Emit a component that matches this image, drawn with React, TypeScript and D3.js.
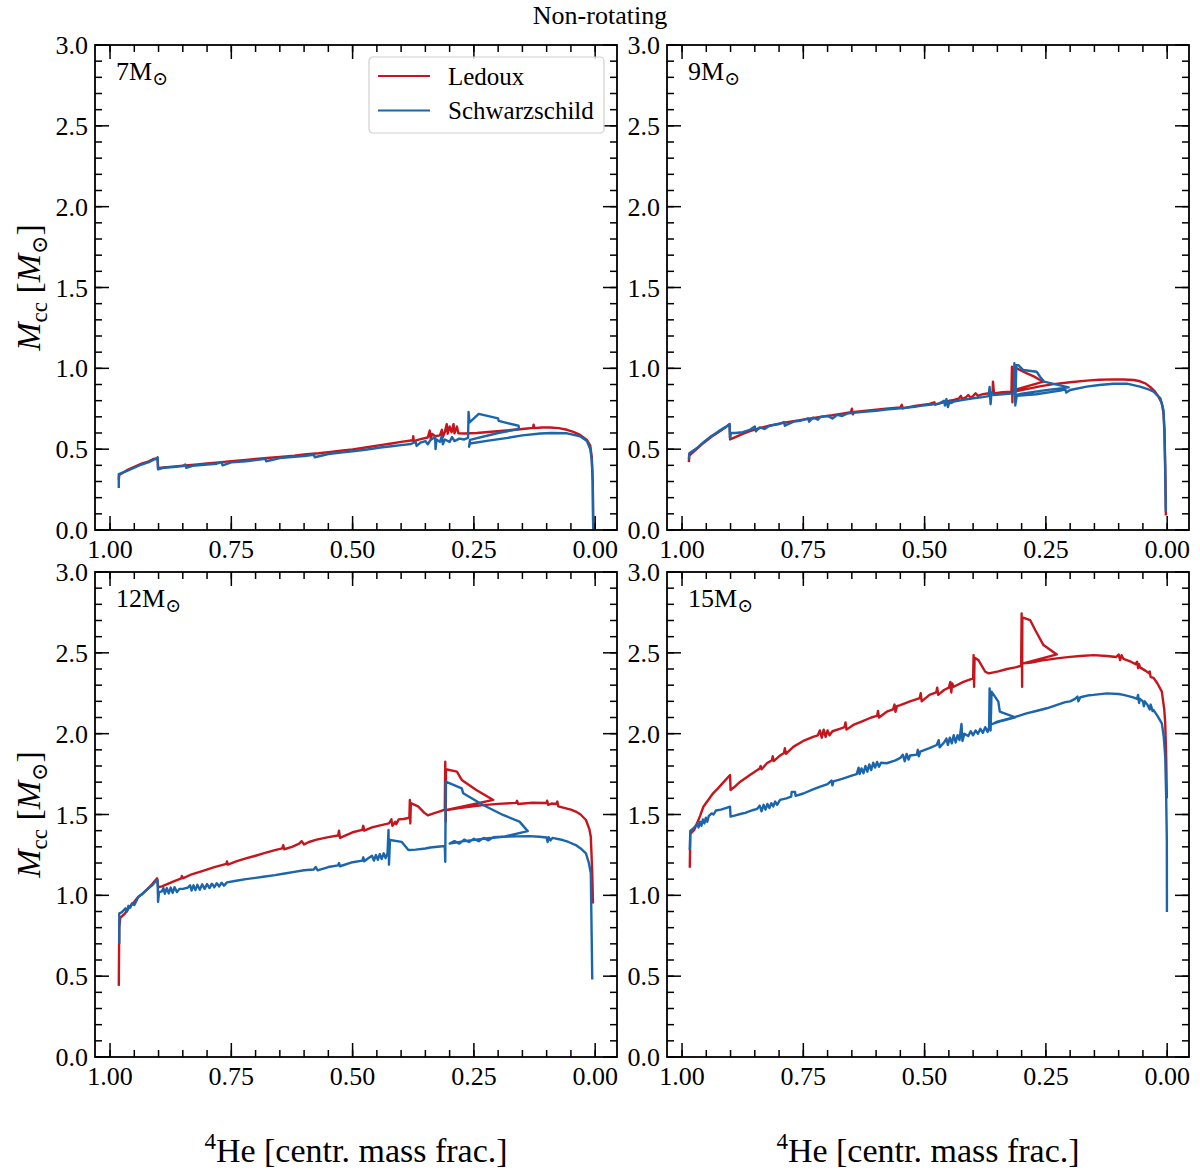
import * as d3 from 'd3';

// ---- data: [central He mass fraction, M_cc] ----
const m7Ledoux: [number, number][] = [
  [0.982, 0.31], [0.981, 0.34], [0.965, 0.37], [0.95, 0.39], [0.935, 0.41], [0.92, 0.425], [0.91, 0.44], [0.902, 0.445],
  [0.901, 0.383], [0.89, 0.387], [0.87, 0.392], [0.85, 0.398], [0.82, 0.406], [0.8, 0.412], [0.77, 0.42], [0.75, 0.426],
  [0.72, 0.434], [0.7, 0.44], [0.67, 0.447], [0.65, 0.452], [0.62, 0.46], [0.6, 0.467], [0.57, 0.475], [0.55, 0.482],
  [0.52, 0.492], [0.5, 0.499], [0.47, 0.512], [0.443, 0.525], [0.42, 0.535], [0.4, 0.545], [0.376, 0.555], [0.375, 0.58],
  [0.374, 0.55], [0.36, 0.562], [0.345, 0.572], [0.341, 0.615], [0.339, 0.565], [0.336, 0.595], [0.33, 0.58], [0.32, 0.585],
  [0.316, 0.62], [0.314, 0.575], [0.31, 0.605], [0.306, 0.655], [0.304, 0.595], [0.3, 0.64], [0.296, 0.605], [0.292, 0.655],
  [0.29, 0.598], [0.285, 0.64], [0.282, 0.598], [0.27, 0.597], [0.244, 0.6], [0.22, 0.606], [0.19, 0.614], [0.16, 0.622],
  [0.14, 0.628], [0.128, 0.632], [0.127, 0.652], [0.125, 0.63], [0.11, 0.634], [0.093, 0.634], [0.075, 0.63], [0.058, 0.62],
  [0.045, 0.607], [0.031, 0.588], [0.017, 0.557], [0.01, 0.52], [0.007, 0.45], [0.005, 0.3], [0.004, 0.0],
];

const m7Schwarz: [number, number][] = [
  [0.982, 0.26], [0.982, 0.345], [0.965, 0.365], [0.95, 0.385], [0.935, 0.405], [0.92, 0.42], [0.91, 0.435], [0.903, 0.44],
  [0.902, 0.45], [0.901, 0.375], [0.89, 0.385], [0.87, 0.39], [0.85, 0.395], [0.845, 0.405], [0.843, 0.385], [0.83, 0.397],
  [0.8, 0.405], [0.78, 0.41], [0.77, 0.42], [0.768, 0.4], [0.75, 0.418], [0.72, 0.425], [0.7, 0.432], [0.68, 0.44],
  [0.678, 0.425], [0.65, 0.445], [0.62, 0.452], [0.6, 0.458], [0.58, 0.465], [0.578, 0.45], [0.55, 0.47], [0.52, 0.48],
  [0.5, 0.487], [0.47, 0.498], [0.443, 0.51], [0.42, 0.518], [0.4, 0.525], [0.38, 0.532], [0.37, 0.545], [0.368, 0.52],
  [0.36, 0.54], [0.35, 0.55], [0.345, 0.53], [0.34, 0.555], [0.33, 0.575], [0.329, 0.5], [0.327, 0.56], [0.32, 0.545],
  [0.316, 0.58], [0.314, 0.53], [0.31, 0.56], [0.3, 0.545], [0.295, 0.575], [0.29, 0.55], [0.28, 0.565], [0.27, 0.56],
  [0.262, 0.57], [0.261, 0.73], [0.259, 0.665], [0.24, 0.718], [0.2, 0.69], [0.199, 0.675], [0.158, 0.645], [0.157, 0.625],
  [0.2, 0.6], [0.258, 0.557], [0.26, 0.515], [0.258, 0.535], [0.22, 0.553], [0.18, 0.57], [0.15, 0.585], [0.113, 0.597],
  [0.09, 0.6], [0.058, 0.598], [0.031, 0.58], [0.017, 0.55], [0.01, 0.5], [0.007, 0.43], [0.005, 0.3], [0.004, 0.0],
];

const m9Ledoux: [number, number][] = [
  [0.986, 0.42], [0.985, 0.46], [0.97, 0.5], [0.955, 0.54], [0.94, 0.575], [0.925, 0.605], [0.91, 0.635], [0.902, 0.655],
  [0.901, 0.56], [0.89, 0.575], [0.875, 0.595], [0.86, 0.612], [0.84, 0.63], [0.82, 0.645], [0.8, 0.658], [0.78, 0.668],
  [0.757, 0.68], [0.735, 0.69], [0.715, 0.7], [0.69, 0.71], [0.67, 0.72], [0.652, 0.728], [0.65, 0.75], [0.648, 0.715],
  [0.645, 0.73], [0.62, 0.738], [0.6, 0.744], [0.58, 0.75], [0.55, 0.758], [0.547, 0.775], [0.545, 0.752], [0.52, 0.768],
  [0.509, 0.772], [0.49, 0.78], [0.48, 0.79], [0.478, 0.775], [0.454, 0.796], [0.44, 0.804], [0.43, 0.812], [0.425, 0.83],
  [0.423, 0.81], [0.415, 0.82], [0.41, 0.835], [0.405, 0.818], [0.4, 0.83], [0.395, 0.845], [0.39, 0.83], [0.38, 0.84],
  [0.36, 0.85], [0.359, 0.918], [0.357, 0.845], [0.34, 0.852], [0.321, 0.856], [0.32, 1.01], [0.319, 0.79], [0.318, 1.0],
  [0.31, 1.0], [0.289, 0.969], [0.275, 0.95], [0.262, 0.928], [0.255, 0.918], [0.315, 0.866], [0.316, 0.856], [0.3, 0.866],
  [0.28, 0.878], [0.26, 0.89], [0.234, 0.902], [0.2, 0.914], [0.166, 0.924], [0.14, 0.929], [0.111, 0.932], [0.09, 0.931],
  [0.069, 0.928], [0.056, 0.92], [0.045, 0.907], [0.035, 0.885], [0.025, 0.856], [0.018, 0.825], [0.011, 0.784],
  [0.0075, 0.72], [0.0055, 0.62], [0.004, 0.4], [0.0027, 0.09],
];

const m9Schwarz: [number, number][] = [
  [0.986, 0.44], [0.985, 0.475], [0.97, 0.505], [0.955, 0.545], [0.94, 0.58], [0.925, 0.61], [0.91, 0.638], [0.902, 0.655],
  [0.901, 0.57], [0.899, 0.6], [0.89, 0.6], [0.875, 0.605], [0.86, 0.62], [0.85, 0.64], [0.848, 0.61], [0.84, 0.635],
  [0.83, 0.625], [0.82, 0.645], [0.8, 0.655], [0.79, 0.668], [0.788, 0.645], [0.77, 0.67], [0.757, 0.675], [0.74, 0.69],
  [0.738, 0.67], [0.73, 0.695], [0.72, 0.683], [0.715, 0.7], [0.7, 0.705], [0.69, 0.69], [0.68, 0.712], [0.67, 0.705],
  [0.66, 0.72], [0.647, 0.725], [0.62, 0.732], [0.6, 0.738], [0.58, 0.745], [0.55, 0.752], [0.52, 0.762], [0.509, 0.768],
  [0.49, 0.775], [0.47, 0.782], [0.46, 0.8], [0.458, 0.77], [0.455, 0.81], [0.452, 0.76], [0.448, 0.8], [0.445, 0.785],
  [0.44, 0.795], [0.42, 0.805], [0.4, 0.815], [0.38, 0.822], [0.368, 0.828], [0.366, 0.885], [0.364, 0.778], [0.362, 0.85],
  [0.358, 0.835], [0.34, 0.84], [0.316, 0.845], [0.315, 1.031], [0.313, 0.77], [0.311, 1.02], [0.307, 1.02], [0.297, 0.99],
  [0.269, 0.979], [0.262, 0.948], [0.254, 0.918], [0.203, 0.882], [0.25, 0.865], [0.3, 0.843], [0.312, 0.835],
  [0.313, 0.775], [0.31, 0.83], [0.27, 0.84], [0.234, 0.856], [0.22, 0.862], [0.21, 0.87], [0.208, 0.85], [0.2, 0.866],
  [0.166, 0.887], [0.14, 0.897], [0.111, 0.905], [0.083, 0.905], [0.056, 0.887], [0.04, 0.872], [0.028, 0.856],
  [0.014, 0.814], [0.0076, 0.742], [0.0055, 0.577], [0.004, 0.35], [0.0027, 0.115],
];

const m12Ledoux: [number, number][] = [
  [0.982, 0.44], [0.981, 0.8], [0.979, 0.86], [0.97, 0.885], [0.959, 0.93], [0.95, 0.96], [0.942, 0.99], [0.933, 1.01],
  [0.924, 1.035], [0.913, 1.07], [0.903, 1.105], [0.901, 1.05], [0.893, 1.055], [0.87, 1.085], [0.853, 1.105],
  [0.852, 1.12], [0.85, 1.105], [0.835, 1.126], [0.81, 1.15], [0.785, 1.175], [0.76, 1.195], [0.759, 1.21], [0.757, 1.19],
  [0.74, 1.21], [0.72, 1.228], [0.7, 1.245], [0.684, 1.259], [0.66, 1.28], [0.645, 1.29], [0.643, 1.31], [0.641, 1.285],
  [0.625, 1.3], [0.61, 1.32], [0.605, 1.335], [0.6, 1.315], [0.59, 1.33], [0.574, 1.345], [0.55, 1.36], [0.53, 1.37],
  [0.528, 1.4], [0.526, 1.355], [0.5, 1.39], [0.48, 1.405], [0.478, 1.43], [0.476, 1.4], [0.46, 1.42], [0.443, 1.433],
  [0.425, 1.445], [0.42, 1.47], [0.418, 1.43], [0.412, 1.455], [0.41, 1.44], [0.405, 1.47], [0.395, 1.472], [0.383, 1.48],
  [0.382, 1.59], [0.381, 1.445], [0.38, 1.57], [0.365, 1.55], [0.352, 1.51], [0.345, 1.495], [0.33, 1.51], [0.32, 1.52],
  [0.31, 1.53], [0.309, 1.827], [0.308, 1.456], [0.3075, 1.78], [0.285, 1.765], [0.275, 1.714], [0.245, 1.652],
  [0.21, 1.59], [0.306, 1.528], [0.28, 1.54], [0.26, 1.548], [0.231, 1.558], [0.2, 1.566], [0.163, 1.572], [0.161, 1.585],
  [0.159, 1.565], [0.13, 1.573], [0.1, 1.571], [0.099, 1.585], [0.097, 1.56], [0.09, 1.568], [0.08, 1.565], [0.078, 1.58],
  [0.076, 1.55], [0.06, 1.538], [0.05, 1.53], [0.04, 1.518], [0.03, 1.5], [0.019, 1.466], [0.012, 1.41], [0.009, 1.362],
  [0.006, 1.136], [0.0045, 0.95],
];

const m12Schwarz: [number, number][] = [
  [0.981, 0.7], [0.981, 0.889], [0.976, 0.895], [0.968, 0.92], [0.965, 0.9], [0.962, 0.935], [0.958, 0.925], [0.955, 0.95],
  [0.95, 0.94], [0.945, 0.97], [0.942, 0.99], [0.935, 1.005], [0.924, 1.035], [0.912, 1.065], [0.905, 1.09],
  [0.902, 1.095], [0.901, 0.96], [0.899, 1.02], [0.893, 1.025], [0.89, 1.045], [0.887, 1.01], [0.883, 1.045],
  [0.879, 1.012], [0.875, 1.048], [0.871, 1.015], [0.867, 1.05], [0.862, 1.02], [0.857, 1.04], [0.85, 1.04], [0.84, 1.047],
  [0.835, 1.062], [0.832, 1.03], [0.828, 1.062], [0.824, 1.032], [0.82, 1.065], [0.815, 1.035], [0.81, 1.068],
  [0.805, 1.04], [0.8, 1.07], [0.795, 1.045], [0.79, 1.072], [0.785, 1.05], [0.78, 1.075], [0.775, 1.055], [0.77, 1.078],
  [0.765, 1.06], [0.759, 1.08], [0.74, 1.09], [0.72, 1.1], [0.7, 1.108], [0.684, 1.115], [0.66, 1.125], [0.64, 1.135],
  [0.62, 1.145], [0.6, 1.155], [0.58, 1.16], [0.576, 1.175], [0.572, 1.155], [0.55, 1.175], [0.53, 1.185], [0.528, 1.2],
  [0.526, 1.18], [0.5, 1.205], [0.48, 1.215], [0.478, 1.235], [0.476, 1.21], [0.47, 1.225], [0.46, 1.245], [0.456, 1.215],
  [0.452, 1.25], [0.448, 1.22], [0.444, 1.255], [0.44, 1.225], [0.436, 1.26], [0.432, 1.23], [0.428, 1.26], [0.426, 1.404],
  [0.425, 1.19], [0.423, 1.342], [0.399, 1.331], [0.385, 1.28], [0.37, 1.283], [0.35, 1.29], [0.34, 1.296], [0.32, 1.302],
  [0.31, 1.305], [0.309, 1.208], [0.308, 1.703], [0.275, 1.662], [0.272, 1.631], [0.231, 1.559], [0.19, 1.497],
  [0.156, 1.456], [0.139, 1.397], [0.19, 1.362], [0.23, 1.35], [0.27, 1.335], [0.3, 1.32], [0.29, 1.335], [0.28, 1.32],
  [0.27, 1.345], [0.26, 1.33], [0.25, 1.35], [0.24, 1.335], [0.23, 1.355], [0.22, 1.34], [0.21, 1.36], [0.19, 1.362],
  [0.16, 1.365], [0.136, 1.366], [0.115, 1.362], [0.1, 1.358], [0.098, 1.33], [0.096, 1.36], [0.092, 1.34], [0.088, 1.355],
  [0.067, 1.342], [0.055, 1.33], [0.04, 1.311], [0.03, 1.29], [0.019, 1.26], [0.013, 1.2], [0.009, 1.136], [0.006, 0.48],
];

const m15Ledoux: [number, number][] = [
  [0.984, 1.17], [0.983, 1.38], [0.978, 1.395], [0.975, 1.404], [0.97, 1.44], [0.963, 1.49], [0.956, 1.548],
  [0.946, 1.59], [0.936, 1.631], [0.925, 1.665], [0.913, 1.705], [0.901, 1.744], [0.9, 1.652], [0.89, 1.675],
  [0.88, 1.703], [0.86, 1.745], [0.84, 1.785], [0.838, 1.8], [0.836, 1.78], [0.825, 1.817], [0.815, 1.835],
  [0.813, 1.86], [0.811, 1.83], [0.8, 1.86], [0.79, 1.88], [0.788, 1.91], [0.786, 1.875], [0.77, 1.92], [0.75, 1.955],
  [0.73, 1.98], [0.72, 1.99], [0.716, 2.02], [0.712, 1.975], [0.708, 2.025], [0.704, 1.98], [0.7, 2.02], [0.696, 1.99],
  [0.69, 2.015], [0.675, 2.03], [0.665, 2.04], [0.663, 2.07], [0.661, 2.025], [0.647, 2.054], [0.63, 2.075], [0.61, 2.1],
  [0.598, 2.11], [0.596, 2.14], [0.594, 2.1], [0.578, 2.136], [0.565, 2.15], [0.562, 2.18], [0.56, 2.135], [0.557, 2.17],
  [0.55, 2.177], [0.53, 2.2], [0.51, 2.22], [0.508, 2.25], [0.506, 2.2], [0.49, 2.24], [0.476, 2.255], [0.474, 2.285],
  [0.472, 2.24], [0.46, 2.27], [0.45, 2.285], [0.447, 2.32], [0.445, 2.255], [0.443, 2.31], [0.44, 2.29], [0.42, 2.32],
  [0.4, 2.342], [0.399, 2.486], [0.398, 2.29], [0.397, 2.47], [0.389, 2.455], [0.375, 2.383], [0.368, 2.373],
  [0.348, 2.385], [0.33, 2.4], [0.313, 2.41], [0.301, 2.42], [0.3, 2.744], [0.299, 2.29], [0.2985, 2.72], [0.2825, 2.703],
  [0.272, 2.641], [0.255, 2.548], [0.2275, 2.49], [0.2965, 2.435], [0.28, 2.44], [0.26, 2.452], [0.2275, 2.466],
  [0.2, 2.475], [0.179, 2.48], [0.152, 2.486], [0.124, 2.48], [0.105, 2.474], [0.1, 2.49], [0.097, 2.455], [0.094, 2.485],
  [0.09, 2.462], [0.075, 2.445], [0.065, 2.43], [0.062, 2.445], [0.06, 2.405], [0.058, 2.43], [0.056, 2.41], [0.045, 2.39],
  [0.038, 2.375], [0.036, 2.385], [0.034, 2.35], [0.028, 2.345], [0.02, 2.31], [0.011, 2.26], [0.006, 2.15],
  [0.004, 2.063], [0.002, 1.85], [0.0007, 1.6],
];

const m15Schwarz: [number, number][] = [
  [0.984, 1.28], [0.983, 1.4], [0.978, 1.41], [0.972, 1.43], [0.968, 1.445], [0.966, 1.42], [0.963, 1.455], [0.96, 1.43],
  [0.957, 1.47], [0.954, 1.445], [0.951, 1.48], [0.948, 1.455], [0.945, 1.49], [0.939, 1.507], [0.935, 1.5], [0.93, 1.525],
  [0.92, 1.53], [0.91, 1.54], [0.901, 1.548], [0.9, 1.487], [0.89, 1.495], [0.88, 1.503], [0.87, 1.51], [0.853, 1.528],
  [0.845, 1.535], [0.84, 1.555], [0.836, 1.52], [0.832, 1.56], [0.828, 1.53], [0.824, 1.565], [0.82, 1.54], [0.816, 1.57],
  [0.812, 1.55], [0.808, 1.58], [0.804, 1.56], [0.798, 1.59], [0.785, 1.6], [0.775, 1.61], [0.774, 1.64], [0.767, 1.64],
  [0.766, 1.615], [0.75, 1.63], [0.73, 1.655], [0.715, 1.672], [0.7, 1.688], [0.692, 1.71], [0.69, 1.68], [0.688, 1.705],
  [0.67, 1.72], [0.647, 1.744], [0.64, 1.75], [0.636, 1.79], [0.634, 1.75], [0.63, 1.785], [0.626, 1.755], [0.622, 1.8],
  [0.618, 1.765], [0.614, 1.81], [0.61, 1.775], [0.606, 1.82], [0.602, 1.79], [0.598, 1.825], [0.594, 1.795], [0.59, 1.82],
  [0.578, 1.817], [0.56, 1.835], [0.55, 1.85], [0.545, 1.87], [0.541, 1.83], [0.537, 1.875], [0.533, 1.84], [0.53, 1.865],
  [0.516, 1.87], [0.514, 1.9], [0.512, 1.86], [0.509, 1.889], [0.49, 1.91], [0.475, 1.93], [0.471, 1.96], [0.469, 1.915],
  [0.46, 1.945], [0.455, 1.97], [0.452, 1.93], [0.448, 1.975], [0.444, 1.94], [0.44, 1.99], [0.436, 1.945], [0.432, 1.99],
  [0.428, 1.96], [0.424, 2.06], [0.422, 1.955], [0.418, 2.0], [0.41, 1.985], [0.405, 2.015], [0.4, 1.99], [0.395, 2.02],
  [0.39, 2.0], [0.385, 2.03], [0.38, 2.005], [0.375, 2.04], [0.37, 2.01], [0.367, 2.043], [0.366, 2.28], [0.364, 2.02],
  [0.362, 2.26], [0.348, 2.198], [0.345, 2.136], [0.313, 2.101], [0.34, 2.08], [0.36, 2.06], [0.35, 2.075],
  [0.313, 2.104], [0.29, 2.125], [0.27, 2.14], [0.248, 2.157], [0.23, 2.175], [0.21, 2.195], [0.2, 2.2], [0.19, 2.215],
  [0.185, 2.23], [0.183, 2.2], [0.179, 2.225], [0.16, 2.238], [0.152, 2.24], [0.124, 2.249], [0.1, 2.245], [0.09, 2.24],
  [0.07, 2.225], [0.062, 2.215], [0.06, 2.24], [0.058, 2.19], [0.056, 2.215], [0.05, 2.2], [0.048, 2.17], [0.046, 2.2],
  [0.04, 2.175], [0.036, 2.15], [0.034, 2.18], [0.03, 2.14], [0.028, 2.146], [0.02, 2.11], [0.011, 2.064], [0.007, 1.98],
  [0.004, 1.858], [0.002, 1.6], [0.0007, 1.34], [0.0005, 0.897],
];

const massLabels = ['7', '9', '12', '15'];
const seriesNames = ['Ledoux', 'Schwarzschild'];
const seriesColors = ['#c4161c', '#1a65ac'];

const xMajor = [1, 0.75, 0.5, 0.25, 0];
const xMajorLabels = ['1.00', '0.75', '0.50', '0.25', '0.00'];
const yMajor = [0, 0.5, 1, 1.5, 2, 2.5, 3];
const yMajorLabels = ['0.0', '0.5', '1.0', '1.5', '2.0', '2.5', '3.0'];
const xMinor = d3.range(0, 21).map((i) => i * 0.05);
const yMinor = d3.range(0, 31).map((i) => i * 0.1);

const panelData = [
  [m7Ledoux, m7Schwarz],
  [m9Ledoux, m9Schwarz],
  [m12Ledoux, m12Schwarz],
  [m15Ledoux, m15Schwarz],
];

// layout
const W = 1200;
const H = 1176;
const PW = 522;
const PH = 485;
const panelX = [95, 667];
const panelY = [45, 572];
const FONT = '"Liberation Serif", "DejaVu Serif", serif';

const x = d3.scaleLinear().domain([1.031, -0.045]).range([0, PW]);
const y = d3.scaleLinear().domain([0, 3]).range([PH, 0]);
const line = d3
  .line<[number, number]>()
  .x((d) => x(d[0]))
  .y((d) => y(d[1]));

function Panel({ idx }: { idx: number }) {
  const col = idx % 2;
  const row = Math.floor(idx / 2);
  const left = panelX[col];
  const top = panelY[row];
  const clipId = `clip-${idx}`;
  const major = 14;
  const minor = 7;
  return (
    <g transform={`translate(${left},${top})`}>
      <defs>
        <clipPath id={clipId}>
          <rect x={0} y={0} width={PW} height={PH} />
        </clipPath>
      </defs>

      <g clipPath={`url(#${clipId})`}>
        {panelData[idx].map((s, i) => (
          <path
            key={i}
            d={line(s) ?? ''}
            fill="none"
            stroke={seriesColors[i]}
            strokeWidth={2.4}
            strokeLinejoin="round"
          />
        ))}
      </g>

      {/* ticks, pointing inwards on all four sides */}
      <g stroke="#000" strokeWidth={1.5}>
        {xMinor.map((v, i) => (
          <g key={`xm${i}`}>
            <line x1={x(v)} x2={x(v)} y1={PH} y2={PH - minor} />
            <line x1={x(v)} x2={x(v)} y1={0} y2={minor} />
          </g>
        ))}
        {xMajor.map((v, i) => (
          <g key={`xM${i}`}>
            <line x1={x(v)} x2={x(v)} y1={PH} y2={PH - major} />
            <line x1={x(v)} x2={x(v)} y1={0} y2={major} />
          </g>
        ))}
        {yMinor.map((v, i) => (
          <g key={`ym${i}`}>
            <line x1={0} x2={minor} y1={y(v)} y2={y(v)} />
            <line x1={PW} x2={PW - minor} y1={y(v)} y2={y(v)} />
          </g>
        ))}
        {yMajor.map((v, i) => (
          <g key={`yM${i}`}>
            <line x1={0} x2={major} y1={y(v)} y2={y(v)} />
            <line x1={PW} x2={PW - major} y1={y(v)} y2={y(v)} />
          </g>
        ))}
      </g>
      <rect x={0} y={0} width={PW} height={PH} fill="none" stroke="#000" strokeWidth={1.8} />

      <g fontFamily={FONT} fontSize={26} fill="#000">
        {xMajor.map((v, i) => (
          <text key={`xl${i}`} x={x(v)} y={PH + 28} textAnchor="middle">
            {xMajorLabels[i]}
          </text>
        ))}
        {yMajor.map((v, i) => (
          <text key={`yl${i}`} x={-7} y={y(v) + 9} textAnchor="end">
            {yMajorLabels[i]}
          </text>
        ))}
        <text x={21} y={35}>
          {massLabels[idx]}M
          <tspan fontSize={19} dy={5} fontFamily='"DejaVu Serif", serif'>
            ⊙
          </tspan>
        </text>
      </g>

      {idx === 0 && (
        <g transform="translate(274,12)" fontFamily={FONT} fontSize={25}>
          <rect x={0} y={0} width={235} height={76} rx={4} fill="#fff" fillOpacity={0.8} stroke="#d0d0d0" strokeWidth={1.2} />
          {seriesNames.map((n, i) => (
            <g key={n} transform={`translate(0,${19 + i * 34.5})`}>
              <line x1={9} x2={61} y1={0} y2={0} stroke={seriesColors[i]} strokeWidth={2.2} />
              <text x={79} y={8.5}>
                {n}
              </text>
            </g>
          ))}
        </g>
      )}
    </g>
  );
}

function YLabel({ cy }: { cy: number }) {
  return (
    <text
      transform={`translate(40,${cy}) rotate(-90)`}
      textAnchor="middle"
      fontFamily={FONT}
      fontSize={34}
    >
      <tspan fontStyle="italic">M</tspan>
      <tspan fontSize={23} dy={7}>
        cc
      </tspan>
      <tspan dy={-7}> [</tspan>
      <tspan fontStyle="italic">M</tspan>
      <tspan fontSize={22} dy={7} fontFamily='"DejaVu Serif", serif'>
        ⊙
      </tspan>
      <tspan dy={-7}>]</tspan>
    </text>
  );
}

function XLabel({ cx }: { cx: number }) {
  return (
    <text x={cx} y={1162} textAnchor="middle" fontFamily={FONT} fontSize={34}>
      <tspan fontSize={23} dy={-13}>
        4
      </tspan>
      <tspan dy={13}>He [centr. mass frac.]</tspan>
    </text>
  );
}

export default function App() {
  return (
    <div style={{ position: 'absolute', left: 0, top: 0, width: W, height: H, background: '#fff' }}>
      <svg width={W} height={H} viewBox={`0 0 ${W} ${H}`}>
        <rect width={W} height={H} fill="#fff" />
        <text x={600} y={24} textAnchor="middle" fontFamily={FONT} fontSize={26}>
          Non-rotating
        </text>
        {[0, 1, 2, 3].map((i) => (
          <Panel key={i} idx={i} />
        ))}
        <YLabel cy={panelY[0] + PH / 2} />
        <YLabel cy={panelY[1] + PH / 2} />
        <XLabel cx={panelX[0] + PW / 2} />
        <XLabel cx={panelX[1] + PW / 2} />
      </svg>
    </div>
  );
}
